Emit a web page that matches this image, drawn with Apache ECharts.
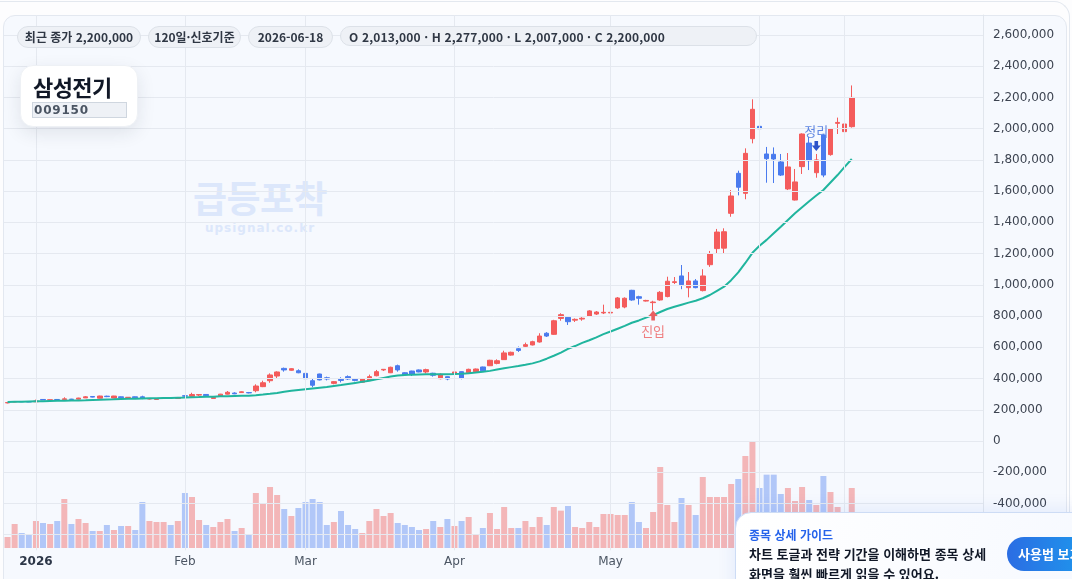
<!DOCTYPE html>
<html lang="ko">
<head>
<meta charset="utf-8">
<title>삼성전기 차트</title>
<script src="https://cdn.jsdelivr.net/npm/echarts@6/dist/echarts.min.js"></script>
<style>
html,body{margin:0;padding:0;width:1072px;height:579px;overflow:hidden;background:#fdfdfe;font-family:"Noto Sans CJK KR","Noto Sans",sans-serif;}
#frame{position:absolute;left:-2px;top:1px;width:1071px;height:620px;border-top:1px solid #e3e8ef;border-right:1px solid #e3e8ef;border-radius:0 16px 0 0;}
#card{position:absolute;left:3px;top:15px;width:1062px;height:620px;background:#f6f9fe;border:1px solid #e3e8f0;border-radius:12px;}
#wm{position:absolute;left:160px;top:175px;width:200px;text-align:center;color:#dce7fb;}
#wm .big{font:700 37px/45px "Noto Sans CJK KR",sans-serif;letter-spacing:-0.5px;}
#wm .small{font:700 12px/14px "DejaVu Sans",sans-serif;letter-spacing:1px;margin-top:1px;}
#chart{position:absolute;left:0;top:0;width:1072px;height:579px;}
.pill{position:absolute;top:26px;height:20px;line-height:20px;border:1px solid #dce1e8;background:#eef1f6;border-radius:11px;font-size:12px;font-weight:700;color:#2f3744;text-align:center;white-space:nowrap;}
#namebox{position:absolute;left:20px;top:65px;width:118px;height:62px;background:#fff;border-radius:13px;box-shadow:0 6px 18px rgba(30,41,59,0.10);border:1px solid #eef1f5;box-sizing:border-box;}
#namebox .nm{position:absolute;left:12px;top:5px;font:700 22px/30px "Noto Sans CJK KR",sans-serif;color:#111827;letter-spacing:-0.6px;}
#namebox .cd{position:absolute;left:11px;top:36px;width:92px;height:14px;background:#eef1f6;border:1px solid #cfd6df;font:700 12px/14px "DejaVu Sans",sans-serif;color:#4b5563;letter-spacing:0.8px;padding-left:1px;}
#guide{position:absolute;left:735px;top:512px;width:360px;height:100px;border-radius:16px;border:1px solid #cddcf5;background:linear-gradient(100deg,#ffffff 0%,#f6f9ff 100%);box-shadow:0 -2px 18px rgba(37,99,235,0.10);}
#guide .t1{position:absolute;left:13px;top:13px;font:700 12px/18px "Noto Sans CJK KR",sans-serif;color:#2563eb;}
#guide .t2{position:absolute;left:13px;top:31px;font:700 13px/20px "Noto Sans CJK KR",sans-serif;color:#111827;letter-spacing:0px;}
#guide .btn{position:absolute;left:271px;top:24px;width:100px;height:34px;border-radius:17px;background:linear-gradient(90deg,#2b6de3,#1ba1ef);color:#fff;font:700 13px/34px "Noto Sans CJK KR",sans-serif;padding-left:11px;box-sizing:border-box;}
</style>
</head>
<body>
<div id="frame"></div>
<div id="card"></div>
<div id="wm"><div class="big">급등포착</div><div class="small">upsignal.co.kr</div></div>
<div id="chart"></div>
<div class="pill" style="left:17px;width:122px;">최근 종가 2,200,000</div>
<div class="pill" style="left:148px;width:91px;">120일·신호기준</div>
<div class="pill" style="left:248px;width:83px;">2026-06-18</div>
<div class="pill" style="left:340px;width:417px;text-align:left;padding-left:8px;box-sizing:border-box;letter-spacing:0.15px;">O 2,013,000 · H 2,277,000 · L 2,007,000 · C 2,200,000</div>
<div id="namebox"><div class="nm">삼성전기</div><div class="cd">009150</div></div>
<div id="guide">
  <div class="t1">종목 상세 가이드</div>
  <div class="t2">차트 토글과 전략 기간을 이해하면 종목 상세<br>화면을 훨씬 빠르게 읽을 수 있어요.</div>
  <div class="btn">사용법 보기</div>
</div>
<script>
// 기준 차트 초기화
var myChart = echarts.init(document.getElementById('chart'));

// 거래일 (2025-12-24 ~ 2026-06-18, 120일)
var holidays = ['2025-12-25','2025-12-31','2026-01-01','2026-02-16','2026-02-17','2026-02-18','2026-03-02'];
var dates = [];
(function () {
    var d = new Date(Date.UTC(2025, 11, 24));
    var end = new Date(Date.UTC(2026, 5, 18));
    while (d <= end) {
        var s = d.toISOString().slice(0, 10);
        var wd = d.getUTCDay();
        if (wd !== 0 && wd !== 6 && holidays.indexOf(s) < 0) dates.push(s);
        d.setUTCDate(d.getUTCDate() + 1);
    }
})();
var rightPad = 18; // 오른쪽 빈 칸

// 시가 / 고가 / 저가 / 종가 (천원)
var opens = [244,250,253,252,251,266,262,266,265,268,268,276,285,274,287,275,283,278,283,283,
    269,266,272,278,272,290,286,294,298,272,288,300,307,310,310,322,348,386,416,465,
    453,450,433,386,429,405,369,395,412,395,376,391,418,455,437,482,437,448,455,442,
    434,399,412,427,444,437,444,474,482,497,521,550,591,606,615,634,690,683,785,792,
    774,781,800,813,820,820,852,858,965,924,896,886,903,925,1015,1057,982,1025,963,1129,
    1232,1235,1458,1714,1586,1936,2015,1838,1836,1787,1614,1543,1757,1908,1718,1960,1834,2034,1981,2013];
var highs = [247,253,255,254,265,268,266,269,280,270,277,288,288,290,290,289,285,281,285,290,
    272,269,275,280,276,294,309,300,300,282,302,320,312,318,314,363,386,433,446,470,
    466,459,444,399,431,412,384,408,420,399,399,425,455,461,476,489,440,450,458,463,
    437,433,414,446,446,463,464,476,520,523,578,572,605,630,642,690,697,776,818,795,
    785,793,838,832,873,865,922,920,968,930,904,898,960,1052,1050,1127,1082,1037,1100,1217,
    1358,1362,1607,1731,1874,2188,2081,1883,1880,1838,1844,1742,1970,1947,1838,1965,2000,2071,2062,2277];
var lows = [241,248,250,249,249,262,259,263,263,264,266,275,279,272,281,273,275,276,276,268,
    266,264,270,275,270,277,284,286,288,269,286,298,300,308,305,312,345,373,401,444,
    450,434,396,344,388,388,363,375,391,382,374,388,414,448,435,444,421,416,440,433,
    412,395,389,425,395,433,442,446,480,491,519,546,570,600,612,630,666,680,770,743,
    762,770,796,807,813,811,846,850,898,873,893,836,898,920,1005,972,920,978,958,1115,
    1198,1200,1436,1573,1548,1906,1981,1654,1652,1697,1607,1540,1710,1735,1686,1689,1827,1966,1960,2007];
var closes = [246,252,251,250,256,263,264,265,270,266,275,283,281,288,284,288,277,280,277,276,
    271,268,274,276,274,287,298,297,290,279,300,312,302,315,308,352,373,423,442,455,
    463,437,399,357,391,397,380,388,397,388,397,412,444,459,472,455,425,427,442,457,
    421,427,397,442,403,459,461,450,517,514,564,568,580,617,636,672,672,770,809,764,
    779,786,833,826,824,824,916,914,903,914,900,890,952,1023,1020,1001,1025,982,1057,1198,
    1338,1340,1569,1625,1842,2124,2000,1808,1806,1703,1755,1659,1966,1795,1800,1703,1998,2040,2030,2200];

// 이동평균선 (천원)
var maLine = [250,251,252,253,254,255,256,257,258,259,260,261,263,264,266,267,269,270,271,272,
    273,274,275,276,277,278,280,281,283,284,286,287,288,289,290,293,297,302,308,316,
    321,326,331,336,341,346,352,358,365,372,379,386,395,404,413,420,423,425,426,427,
    427,428,428,429,431,434,438,443,449,458,466,473,480,488,497,510,527,546,566,590,
    608,628,645,664,684,701,719,737,757,772,790,806,826,845,860,873,886,898,914,935,
    962,988,1030,1080,1140,1205,1250,1288,1330,1372,1415,1458,1497,1535,1572,1607,1655,1703,1755,1806];

// 거래량 (주)
var volumes = [330000,720000,450000,420000,810000,750000,720000,810000,1470000,720000,
    870000,750000,510000,510000,690000,540000,660000,660000,540000,1380000,
    810000,780000,780000,690000,810000,1650000,1530000,840000,690000,630000,
    780000,870000,510000,600000,420000,1650000,1320000,1830000,1590000,1170000,
    960000,1200000,1380000,1470000,1380000,690000,780000,1110000,690000,570000,
    450000,810000,1170000,960000,1050000,750000,690000,630000,540000,570000,
    810000,630000,870000,660000,810000,930000,420000,600000,1050000,570000,
    1230000,600000,600000,810000,630000,930000,690000,1230000,1120000,1260000,
    630000,600000,780000,630000,1020000,1020000,990000,990000,1380000,780000,
    600000,1080000,2430000,1290000,780000,1500000,1290000,990000,2130000,1530000,
    1530000,1530000,1920000,2070000,2760000,3180000,1800000,2200000,2200000,1620000,
    1800000,1410000,1830000,1440000,1290000,2160000,1680000,1230000,640000,1800000];

// 축 눈금
var monthTickIdx = [4, 25, 42, 63, 85, 106, 118];
var monthTickText = ['2026', 'Feb', 'Mar', 'Apr', 'May', 'Jun', ''];
var priceTicks = [-600000,-400000,-200000,0,200000,400000,600000,800000,1000000,1200000,
    1400000,1600000,1800000,2000000,2200000,2400000,2600000];

// 신호
var entryIdx = 91;
var exitIdx = 114;

var UP = '#f45c5c', DOWN = '#4a7bee';

var cats = dates.concat(new Array(rightPad).fill(''));
var candleData = opens.map(function (o, i) {
    return [o * 1000, closes[i] * 1000, lows[i] * 1000, highs[i] * 1000];
});
var volData = volumes.map(function (v, i) {
    return {
        value: v,
        itemStyle: { color: closes[i] >= opens[i] ? 'rgba(239,83,80,0.4)' : 'rgba(74,124,240,0.4)' }
    };
});
var maData = maLine.map(function (v) { return v * 1000; });

var gridLines = monthTickIdx.map(function (i) { return { xAxis: i }; })
    .concat(priceTicks.map(function (p) { return { yAxis: p }; }));

var arrowUp = 'path://M5 0 L10 5.5 L7 5.5 L7 10 L3 10 L3 5.5 L0 5.5 Z';
var arrowDown = 'path://M3 0 L7 0 L7 4.5 L10 4.5 L5 10 L0 4.5 L3 4.5 Z';

option = {
    animation: false,
    backgroundColor: 'transparent',
    grid: {
        left: 4,
        right: 89,
        top: 15,
        bottom: 28.7
    },
    xAxis: {
        type: 'category',
        data: cats,
        boundaryGap: true,
        axisLine: { show: false },
        axisTick: { show: false },
        splitLine: { show: false },
        axisLabel: {
            margin: 6,
            interval: function (idx) { return monthTickIdx.indexOf(idx) >= 0; },
            formatter: function (val, idx) {
                var k = monthTickIdx.indexOf(idx);
                if (k < 0) return '';
                return k === 0 ? '{y|' + monthTickText[k] + '}' : monthTickText[k];
            },
            color: '#4b5563',
            fontSize: 12,
            fontFamily: 'DejaVu Sans',
            rich: {
                y: { fontWeight: 'bold', color: '#2d3748', fontSize: 12, fontFamily: 'DejaVu Sans' }
            }
        }
    },
    yAxis: [
        {
            type: 'value',
            position: 'right',
            min: -700000,
            max: 2728000,
            interval: 100000,
            axisLine: { show: true, lineStyle: { color: '#e1e6ed' } },
            axisTick: { show: false },
            splitLine: { show: false },
            axisLabel: {
                margin: 10,
                padding: [3, 0, 0, 0],
                color: '#3d4451',
                fontSize: 12,
                fontFamily: 'DejaVu Sans',
                showMinLabel: true,
                showMaxLabel: true,
                formatter: function (v) {
                    if (priceTicks.indexOf(v) < 0) return '';
                    return v.toLocaleString('en-US');
                }
            }
        },
        {
            // 거래량 (숨김)
            type: 'value',
            show: false,
            min: -69000,
            max: 15990000
        }
    ],
    series: [
        {
            name: 'grid',
            type: 'line',
            data: [],
            z: 1,
            silent: true,
            markLine: {
                silent: true,
                symbol: ['none', 'none'],
                label: { show: false },
                emphasis: { disabled: true },
                lineStyle: { type: 'solid', color: '#e5e9f0', width: 1 },
                data: gridLines
            }
        },
        {
            name: '거래량',
            type: 'bar',
            yAxisIndex: 1,
            data: volData,
            barWidth: 6,
            z: 2,
            silent: true
        },
        {
            name: '가격',
            type: 'candlestick',
            data: candleData,
            barWidth: 5,
            z: 3,
            itemStyle: {
                color: UP,
                color0: DOWN,
                borderColor: UP,
                borderColor0: DOWN,
                borderWidth: 1
            },
            markPoint: {
                silent: true,
                data: [
                    {
                        coord: [entryIdx, lows[entryIdx] * 1000],
                        symbol: arrowUp,
                        symbolSize: [9, 10],
                        symbolOffset: [0, 5],
                        itemStyle: { color: '#e95f60' },
                        label: {
                            show: true, position: 'bottom', distance: 4,
                            formatter: '진입', color: '#ef7d7f', fontSize: 13,
                            fontFamily: 'Noto Sans CJK KR'
                        }
                    },
                    {
                        coord: [exitIdx, highs[exitIdx] * 1000],
                        symbol: arrowDown,
                        symbolSize: [9, 10],
                        symbolOffset: [0, -8],
                        itemStyle: { color: '#2c52c9' },
                        label: {
                            show: true, position: 'top', distance: 3,
                            formatter: '정리', color: '#5f86e2', fontSize: 13,
                            fontFamily: 'Noto Sans CJK KR'
                        }
                    }
                ]
            }
        },
        {
            name: 'MA',
            type: 'line',
            data: maData,
            symbol: 'none',
            z: 4,
            silent: true,
            lineStyle: { color: '#20b59e', width: 2 }
        }
    ]
};

myChart.setOption(option);
</script>
</body>
</html>
